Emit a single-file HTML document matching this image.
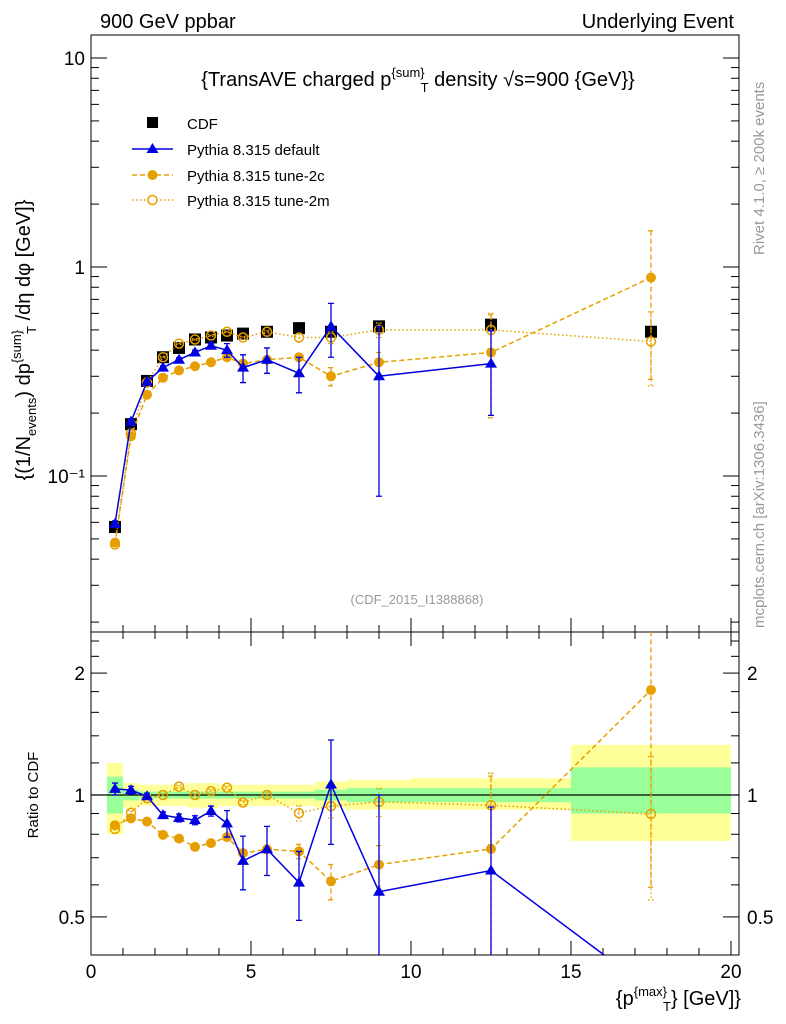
<!DOCTYPE html>
<html><head><meta charset="utf-8"><style>
html,body{margin:0;padding:0;background:#fff;font-family:"Liberation Sans",sans-serif;overflow:hidden;width:786px;height:1024px}
svg{display:block;overflow:hidden}
svg text{font-family:"Liberation Sans","DejaVu Sans",sans-serif}
</style></head><body>
<svg id="c" width="786" height="1024" xmlns="http://www.w3.org/2000/svg">
<text x="100" y="28" font-size="20">900 GeV ppbar</text>
<text x="734" y="28" font-size="20" text-anchor="end">Underlying Event</text>
<text x="418" y="86" font-size="20" text-anchor="middle">{TransAVE charged p<tspan dy="-9" font-size="13">{sum}</tspan><tspan dy="15" dx="-4" font-size="13">T</tspan><tspan dy="-6"> density √s=900 {GeV}}</tspan></text>
<text x="417" y="604" font-size="13" fill="#999" text-anchor="middle">(CDF_2015_I1388868)</text>
<text transform="translate(764,255) rotate(-90)" font-size="15" fill="#999">Rivet 4.1.0, ≥ 200k events</text>
<text transform="translate(764,628) rotate(-90)" font-size="15" fill="#999">mcplots.cern.ch [arXiv:1306.3436]</text>
<text transform="translate(30,340) rotate(-90)" font-size="20" text-anchor="middle">{(1/N<tspan dy="6" font-size="13">events</tspan><tspan dy="-6">) dp</tspan><tspan dy="-9" font-size="13">{sum}</tspan><tspan dy="15" dx="-4" font-size="13">T</tspan><tspan dy="-6"> /dη dφ [GeV]}</tspan></text>
<text transform="translate(38,795) rotate(-90)" font-size="15" text-anchor="middle">Ratio to CDF</text>
<text x="741" y="1005" font-size="20" text-anchor="end">{p<tspan dy="-9" font-size="13">{max}</tspan><tspan dy="15" dx="-4" font-size="13">T</tspan><tspan dy="-6">} [GeV]}</tspan></text>
<g id="legend">
<rect x="147" y="117" width="11" height="11" fill="#000"/>
<text x="187" y="129" font-size="15">CDF</text>
<line x1="132" y1="149" x2="173" y2="149" stroke="#0000e0" stroke-width="1.5"/>
<polygon points="152.5,143 146.5,153 158.5,153" fill="#0000e0"/>
<text x="187" y="155" font-size="15">Pythia 8.315 default</text>
<line x1="132" y1="175" x2="173" y2="175" stroke="#e69f00" stroke-width="1.5" stroke-dasharray="5,3"/>
<circle cx="152.5" cy="175" r="5" fill="#e69f00"/>
<text x="187" y="181" font-size="15">Pythia 8.315 tune-2c</text>
<line x1="132" y1="200" x2="173" y2="200" stroke="#e69f00" stroke-width="1.5" stroke-dasharray="1.5,2.5"/>
<circle cx="152.5" cy="200" r="4.5" fill="#fff" stroke="#e69f00" stroke-width="1.5"/>
<text x="187" y="206" font-size="15">Pythia 8.315 tune-2m</text>
</g>
</svg>
<script>
const xs=[0.75,1.25,1.75,2.25,2.75,3.25,3.75,4.25,4.75,5.5,6.5,7.5,9,12.5,17.5];
const binEdges=[0.5,1,1.5,2,2.5,3,3.5,4,4.5,5,6,7,8,10,15,20];
const cdf=[0.057,0.177,0.285,0.37,0.41,0.45,0.46,0.47,0.48,0.49,0.51,0.49,0.52,0.53,0.49];
const bandStatHi=[1.11,1.03,1.02,1.02,1.02,1.02,1.02,1.02,1.02,1.02,1.02,1.03,1.04,1.04,1.17];
const bandStatLo=[0.9,0.97,0.98,0.98,0.98,0.98,0.98,0.98,0.98,0.98,0.98,0.97,0.96,0.96,0.9];
const bandTotHi=[1.2,1.07,1.06,1.06,1.06,1.07,1.07,1.06,1.06,1.06,1.06,1.08,1.09,1.1,1.33];
const bandTotLo=[0.8,0.93,0.94,0.94,0.94,0.93,0.93,0.94,0.94,0.94,0.94,0.93,0.92,0.92,0.77];
const pDef=[0.059,0.182,0.283,0.33,0.36,0.39,0.42,0.40,0.33,0.36,0.31,0.52,0.30,0.345,0];
const pDefErr=[0.002,0.004,0.005,0.006,0.008,0.01,0.012,0.03,0.05,0.05,0.06,0.15,0.22,0.15,0];
const p2c=[0.048,0.155,0.245,0.295,0.32,0.335,0.35,0.37,0.345,0.36,0.37,0.30,0.35,0.39,0.89];
const p2cErr=[0.001,0.002,0.003,0.003,0.004,0.004,0.005,0.005,0.006,0.008,0.015,0.03,0.04,0.2,0.6];
const p2m=[0.047,0.16,0.28,0.37,0.43,0.45,0.47,0.49,0.46,0.49,0.46,0.46,0.50,0.50,0.44];
const p2mErr=[0.001,0.002,0.003,0.003,0.004,0.004,0.005,0.005,0.006,0.008,0.02,0.03,0.04,0.1,0.17];
const yTicksMain=["10⁻¹","1","10"];
const xTickLabels=["0","5","10","15","20"];
const rTickLabels=["0.5","1","2"];

const NS="http://www.w3.org/2000/svg",svg=document.getElementById('c');
const L=91,R=739,T=35,MB=632,RB=955;
const X=v=>L+v*32;
const Y=v=>267-209*Math.log10(Math.max(v,1e-6));
const YR=v=>795-405*Math.log10(Math.max(v,0.33));
function el(tag,a,p){const e=document.createElementNS(NS,tag);for(const k in a)e.setAttribute(k,a[k]);(p||svg).appendChild(e);return e;}
const gBand=el('g',{});


for(let i=0;i<xs.length;i++){
 const a=X(binEdges[i]),b=X(binEdges[i+1]);
 const r1=el('rect',{x:a,y:YR(bandTotHi[i]),width:b-a,height:YR(bandTotLo[i])-YR(bandTotHi[i]),fill:'#ffff99'},gBand);
 
 
 const r2=el('rect',{x:a,y:YR(bandStatHi[i]),width:b-a,height:YR(bandStatLo[i])-YR(bandStatHi[i]),fill:'#99ff99'},gBand);
 
 
}
const one=el('line',{x1:L,x2:R,y1:YR(1),y2:YR(1),stroke:'#000','stroke-width':1.2});


const f1=el('rect',{x:L,y:T,width:R-L,height:MB-T,fill:'none',stroke:'#000','stroke-width':1});


const f2=el('rect',{x:L,y:MB,width:R-L,height:RB-MB,fill:'none',stroke:'#000','stroke-width':1});


for(let v=0;v<=20;v+=1){const maj=v%5==0,len=maj?14:7;
 for(const yb of [MB,RB]){const t=el('line',{x1:X(v),x2:X(v),y1:yb,y2:yb-len,stroke:'#000'});
 
 }
 const tt=el('line',{x1:X(v),x2:X(v),y1:MB,y2:MB+len,stroke:'#000'});
 
 
}
xTickLabels.forEach((s,i)=>{const t=el('text',{x:X(i*5),y:978,'font-size':19,'text-anchor':'middle'});t.textContent=s;
 
 });
for(let d=-2;d<=1;d++)for(let m=1;m<10;m++){const v=m*Math.pow(10,d),y=Y(v);if(y<T||y>MB)continue;const len=m==1?16:8;
 for(const [x1,x2] of [[L,L+len],[R,R-len]]){const t=el('line',{x1,x2,y1:y,y2:y,stroke:'#000'});
 
 }}
[[0.1,yTicksMain[0]],[1,yTicksMain[1]],[10,yTicksMain[2]]].forEach(([v,s])=>{const t=el('text',{x:L-6,y:Y(v)+7,'font-size':19,'text-anchor':'end'});t.textContent=s;
 
 });
[0.5,0.6,0.7,0.8,0.9,1,1.2,1.4,1.6,1.8,2,2.2,2.4].forEach(v=>{const y=YR(v);const maj=[0.5,1,2].includes(v),len=maj?16:8;
 for(const [x1,x2] of [[L,L+len],[R,R-len]]){const t=el('line',{x1,x2,y1:y,y2:y,stroke:'#000'});
 
 }});
[0.5,1,2].forEach((v,i)=>{for(const [x,a] of [[L-6,'end'],[R+8,'start']]){const t=el('text',{x,y:YR(v)+7,'font-size':19,'text-anchor':a});t.textContent=rTickLabels[i];
 
 }});
const cp=el('clipPath',{id:'cm'});el('rect',{x:L,y:T,width:R-L,height:MB-T},cp);
const cr=el('clipPath',{id:'cr'});el('rect',{x:L,y:MB,width:R-L,height:RB-MB},cr);
function series(name,vals,errs,color,dash,marker,ratio){
 const Yf=ratio?YR:Y;
 const V=ratio?vals.map((v,i)=>v/cdf[i]):vals;
 const E=ratio?errs.map((e,i)=>e/cdf[i]):errs;
 const g=el('g',{'clip-path':ratio?'url(#cr)':'url(#cm)'});
 
 
 const pts=[];xs.forEach((x,i)=>{if(vals[i]>0||ratio)pts.push(X(x)+','+Yf(V[i]));});
 const ln=el('polyline',{points:pts.join(' '),fill:'none',stroke:color,'stroke-width':1.5,'stroke-dasharray':dash},g);
 
 
 xs.forEach((x,i)=>{if(!(vals[i]>0))return;
  const cx=X(x),lo=Math.max(V[i]-E[i],0.01),y1=Yf(V[i]+E[i]),y2=Yf(lo);
  const e=el('path',{d:`M${cx},${y1}V${y2}M${cx-3},${y1}h6M${cx-3},${y2}h6`,stroke:color,'stroke-width':1.3,fill:'none','stroke-dasharray':dash},g);
  
  
  const cy=Yf(V[i]);let m;
  if(marker=='tri')m=el('polygon',{points:`${cx},${cy-6} ${cx-6},${cy+4} ${cx+6},${cy+4}`,fill:color},g);
  else if(marker=='dot')m=el('circle',{cx,cy,r:5,fill:color},g);
  else m=el('circle',{cx,cy,r:4.5,fill:'none',stroke:color,'stroke-width':1.5},g);
  
  
 });
}
const gc=el('g',{'clip-path':'url(#cm)'});


xs.forEach((x,i)=>{const r=el('rect',{x:X(x)-6,y:Y(cdf[i])-6,width:12,height:12,fill:'#000'},gc);
 
 });
for(const ratio of [false,true]){
 series('tune-2m',p2m,p2mErr,'#e69f00','1.5,2.5','open',ratio);
 series('tune-2c',p2c,p2cErr,'#e69f00','5,3','dot',ratio);
 series('default',pDef,pDefErr,'#0000e0','','tri',ratio);
}
</script>
</body></html>
